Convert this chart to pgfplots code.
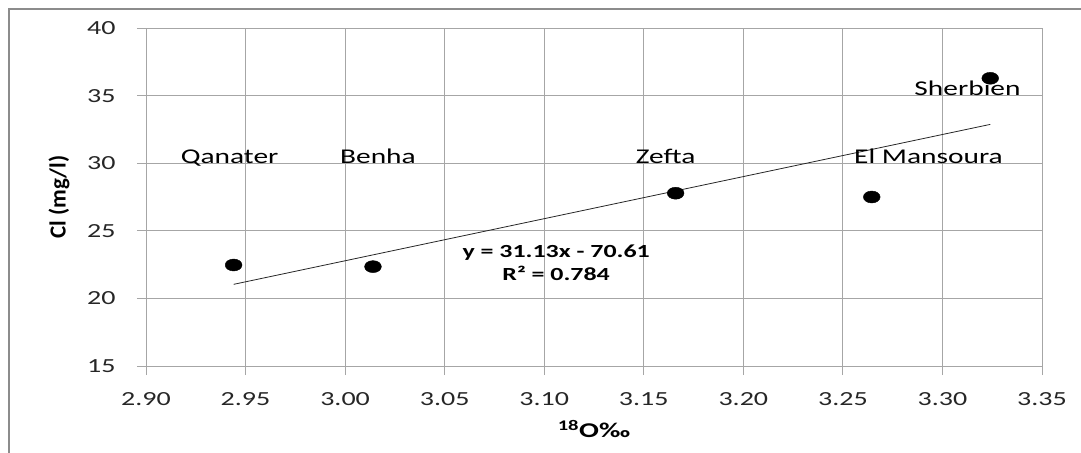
\documentclass[border=0pt]{standalone}
\usepackage{pgfplots}
\pgfplotsset{compat=1.18}
\usepackage{fontspec}
\setmainfont{Carlito}[FakeStretch=1.4]
\newfontfamily\ylabfont{Carlito}
\definecolor{gridgray}{HTML}{A6A6A6}
\definecolor{bordergray}{HTML}{8C8C8C}
\begin{document}
\begin{tikzpicture}
\begin{axis}[
  scale only axis,
  width=896bp, height=338bp,
  at={(0,0)}, anchor=south west,
  xmin=2.9, xmax=3.35, ymin=15, ymax=40,
  xtick={2.90,2.95,3.00,3.05,3.10,3.15,3.20,3.25,3.30,3.35},
  ytick={15,20,25,30,35,40},
  xticklabel style={yshift=-14bp, /pgf/number format/fixed, /pgf/number format/fixed zerofill, /pgf/number format/precision=2},
  yticklabel style={xshift=-18bp},
  /pgf/number format/assume math mode=true,
  tick label style={font=\fontsize{20bp}{22bp}\selectfont, text=black!85},
  grid=major,
  grid style={gridgray, line width=0.8bp},
  axis line style={gridgray, line width=0.8bp},
  tick style={gridgray, line width=0.8bp},
  tick pos=left,
  tick align=outside,
  major tick length=9bp,
  clip=false,
  xlabel={\bfseries\textsuperscript{18}O‰},
  xlabel style={at={(axis description cs:0.5,-0.213)}, anchor=base, font=\fontsize{21bp}{23bp}\selectfont},
  ylabel={\ylabfont\bfseries Cl (mg/l)},
  ylabel style={at={(axis description cs:-0.097,0.5)}, anchor=center, font=\fontsize{23bp}{25bp}\selectfont},
]
\addplot[only marks, mark=*, mark size=6bp, mark options={black, xscale=1.4}] coordinates {
  (2.944,22.47) (3.014,22.35) (3.166,27.78) (3.2645,27.50) (3.324,36.28)
};
\addplot[black!85, line width=0.8bp, no marks] coordinates {(2.944,21.04) (3.324,32.87)};
\node[anchor=base, font=\fontsize{21bp}{23bp}\selectfont] at (axis cs:2.942,30) {Qanater};
\node[anchor=base, font=\fontsize{21bp}{23bp}\selectfont] at (axis cs:3.0165,30) {Benha};
\node[anchor=base, font=\fontsize{21bp}{23bp}\selectfont] at (axis cs:3.161,30) {Zefta};
\node[anchor=base, font=\fontsize{21bp}{23bp}\selectfont] at (axis cs:3.293,30) {El Mansoura};
\node[anchor=base, font=\fontsize{21bp}{23bp}\selectfont] at (axis cs:3.3126,35) {Sherbien};
\node[anchor=center, font=\bfseries\fontsize{18.5bp}{20bp}\selectfont] at (axis cs:3.106,23.36) {y = 31.13x - 70.61};
\node[anchor=center, font=\bfseries\fontsize{18.5bp}{20bp}\selectfont] at (axis cs:3.106,21.88) {R² = 0.784};
\end{axis}
\pgfresetboundingbox
\useasboundingbox (-146bp,-87bp) rectangle (935bp,366bp);
\draw[bordergray, line width=1.2bp] (-137bp,-100bp) -- (-137bp,357bp) -- (1000bp,357bp);
\end{tikzpicture}
\end{document}
